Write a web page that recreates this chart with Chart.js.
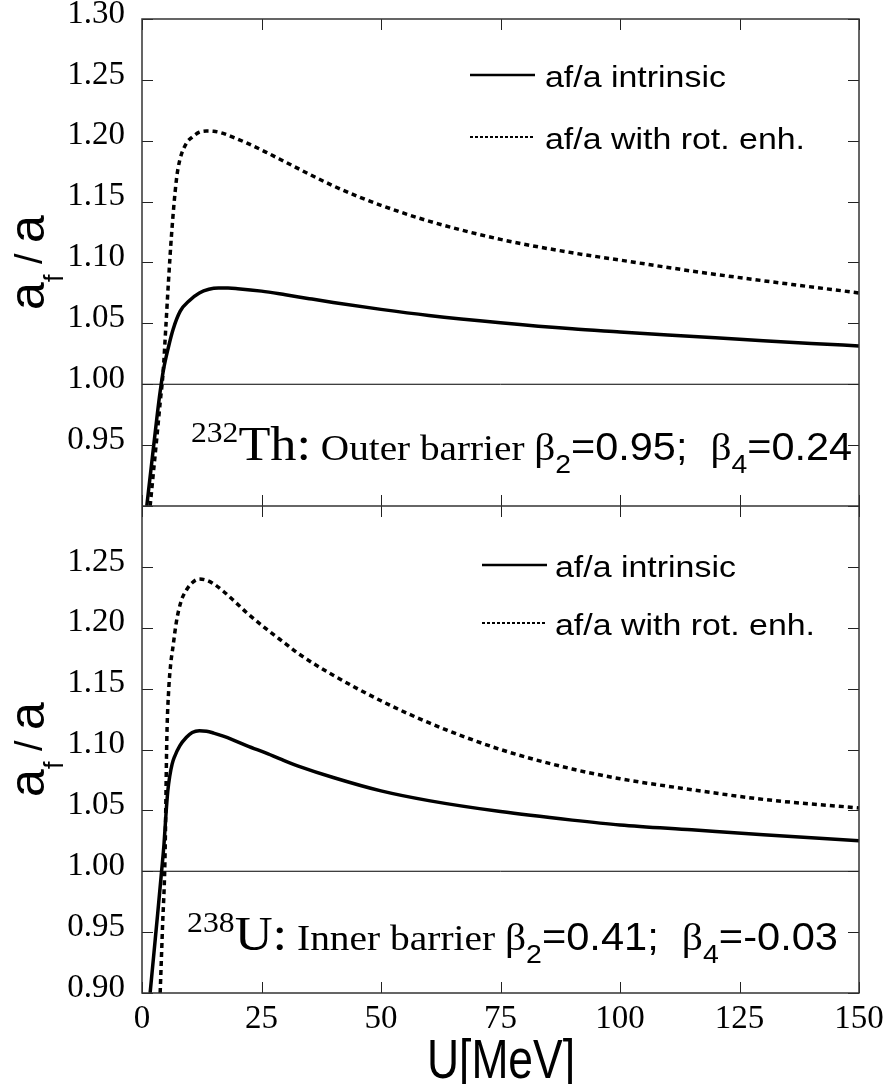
<!DOCTYPE html>
<html>
<head>
<meta charset="utf-8">
<script src="https://cdn.jsdelivr.net/npm/chart.js@4.4.0/dist/chart.umd.min.js"></script>
<style>
  html, body { margin: 0; padding: 0; background: #fff; }
  canvas { display: block; }
</style>
</head>
<body>
<canvas id="chart" width="888" height="1084"></canvas>
<script>
// Axis ticks and series names
const xTickValues = [0, 25, 50, 75, 100, 125, 150];
const yTickValues = [0.90, 0.95, 1.00, 1.05, 1.10, 1.15, 1.20, 1.25, 1.30];
const seriesLabels = ["af/a intrinsic", "af/a with rot. enh."];

// 232Th, outer barrier (top panel)
const thIntrinsicU = [1.0, 1.7, 2.4, 3.1, 3.8, 4.5, 5.5, 6.5, 8.0, 10, 12, 14, 16, 18, 20, 25, 30, 35, 40, 50, 60, 75, 90, 100, 110, 125, 140, 150];
const thIntrinsicRatio = [0.900, 0.924, 0.948, 0.972, 0.994, 1.012, 1.030, 1.045, 1.060, 1.069, 1.075, 1.078, 1.079, 1.079, 1.0785, 1.0765, 1.0735, 1.0703, 1.0672, 1.0615, 1.0565, 1.0505, 1.0455, 1.043, 1.0405, 1.037, 1.0335, 1.0315];
const thRotU = [1.7, 2.4, 3.1, 3.8, 4.4, 5.0, 5.5, 6.2, 7.2, 7.9, 9.3, 10.5, 12, 13.5, 15, 17, 19, 22, 26, 30, 35, 40, 45, 50, 60, 75, 90, 100, 115, 130, 150];
const thRotRatio = [0.900, 0.928, 0.956, 0.985, 1.009, 1.048, 1.082, 1.124, 1.168, 1.184, 1.198, 1.203, 1.207, 1.208, 1.2078, 1.206, 1.203, 1.198, 1.1905, 1.1825, 1.1725, 1.163, 1.1545, 1.147, 1.134, 1.119, 1.108, 1.102, 1.093, 1.085, 1.075];

// 238U, inner barrier (bottom panel)
const uIntrinsicU = [1.7, 2.5, 3.3, 4.1, 4.6, 5.0, 5.4, 5.8, 6.3, 6.8, 7.9, 9.3, 10.5, 12, 13.5, 15, 17, 19, 22, 26, 30, 33, 40, 50, 60, 75, 90, 100, 115, 130, 150];
const uIntrinsicRatio = [0.900, 0.933, 0.966, 1.000, 1.022, 1.046, 1.066, 1.078, 1.088, 1.094, 1.103, 1.110, 1.114, 1.1155, 1.115, 1.1135, 1.111, 1.108, 1.103, 1.097, 1.0905, 1.086, 1.077, 1.066, 1.058, 1.049, 1.042, 1.038, 1.034, 1.030, 1.025];
const uRotU = [3.8, 4.3, 4.8, 5.2, 5.6, 6.0, 6.5, 7.2, 8.2, 9.3, 10.5, 12, 13.5, 15, 17, 19, 22, 26, 30, 33, 40, 50, 60, 75, 90, 100, 115, 130, 150];
const uRotRatio = [0.900, 0.955, 1.009, 1.110, 1.150, 1.170, 1.185, 1.205, 1.222, 1.231, 1.237, 1.240, 1.239, 1.236, 1.230, 1.223, 1.212, 1.199, 1.187, 1.178, 1.161, 1.140, 1.122, 1.100, 1.084, 1.076, 1.067, 1.059, 1.052];

// Reference line a_f/a = 1
const refLineU = [0, 150];
const refLineRatio = [1.0, 1.0];

const SERIF = "'Liberation Serif', 'Times New Roman', serif";
const SANS = "'Liberation Sans', Arial, sans-serif";

function toPoints(xs, ys) {
    return xs.map((x, i) => ({ x: x, y: ys[i] }));
}

// One curve of the figure
function curve(label, xs, ys, axisId, dashed) {
    return {
        label: label,
        data: toPoints(xs, ys),
        yAxisID: axisId,
        borderColor: "#000",
        borderWidth: 3.5,
        borderDash: dashed ? [5, 4] : [],
        borderCapStyle: "butt",
        pointRadius: 0,
        fill: false,
        cubicInterpolationMode: "monotone"
    };
}

function refLine(axisId) {
    return {
        label: "ref",
        data: toPoints(refLineU, refLineRatio),
        yAxisID: axisId,
        borderColor: "#000",
        borderWidth: 1,
        pointRadius: 0,
        fill: false
    };
}

// Draw a run of text pieces, squeezed to fit between x0 and x1
function drawRun(ctx, pieces, x0, x1, baseline) {
    ctx.save();
    let total = 0;
    pieces.forEach(p => {
        ctx.font = p.font;
        p.w = ctx.measureText(p.text).width;
        total += p.w;
    });
    ctx.translate(x0, baseline);
    ctx.scale(x1 ? (x1 - x0) / total : 1, 1);
    ctx.fillStyle = "#000";
    ctx.textBaseline = "alphabetic";
    ctx.textAlign = "left";
    let cx = 0;
    pieces.forEach(p => {
        ctx.font = p.font;
        ctx.fillText(p.text, cx, p.dy || 0);
        cx += p.w;
    });
    ctx.restore();
}

function drawLegend(ctx, lineX0, lineX1, textX, rowY) {
    ctx.save();
    ctx.strokeStyle = "#000";
    rowY.forEach((y, i) => {
        ctx.lineWidth = i === 0 ? 2.5 : 2;
        ctx.setLineDash(i === 0 ? [] : [3, 2]);
        ctx.beginPath();
        ctx.moveTo(lineX0, y);
        ctx.lineTo(lineX1, y);
        ctx.stroke();
        ctx.setLineDash([]);
        ctx.font = "30px " + SANS;
        ctx.fillStyle = "#000";
        ctx.textBaseline = "alphabetic";
        ctx.save();
        ctx.translate(textX, y + 12);
        ctx.scale(1.13, 1);
        ctx.fillText(seriesLabels[i], 0, 0);
        ctx.restore();
    });
    ctx.restore();
}

// Rotated "a_f / a"
function drawRatioTitle(ctx, cy) {
    const pieces = [
        { text: "a", font: "50px " + SANS, dy: 0 },
        { text: "f", font: "27px " + SANS, dy: 19 },
        { text: " / ", font: "38px " + SANS, dy: -2 },
        { text: "a", font: "50px " + SANS, dy: 0 }
    ];
    ctx.save();
    let total = 0;
    pieces.forEach(p => { ctx.font = p.font; p.w = ctx.measureText(p.text).width; total += p.w; });
    ctx.translate(44, cy);
    ctx.rotate(-Math.PI / 2);
    ctx.fillStyle = "#000";
    let cx = -total / 2;
    pieces.forEach(p => {
        ctx.font = p.font;
        ctx.fillText(p.text, cx, p.dy);
        cx += p.w;
    });
    ctx.restore();
}

const annotationTh = [
    { text: "232", font: "29px " + SERIF, dy: -18 },
    { text: "Th:", font: "48px " + SERIF },
    { text: " Outer barrier ", font: "36px " + SERIF },
    { text: "β", font: "38px " + SERIF },
    { text: "2", font: "26px " + SANS, dy: 13 },
    { text: "=0.95;  ", font: "38px " + SANS },
    { text: "β", font: "38px " + SERIF },
    { text: "4", font: "26px " + SANS, dy: 13 },
    { text: "=0.24", font: "38px " + SANS }
];
const annotationU = [
    { text: "238", font: "29px " + SERIF, dy: -18 },
    { text: "U:", font: "48px " + SERIF },
    { text: " Inner barrier ", font: "36px " + SERIF },
    { text: "β", font: "38px " + SERIF },
    { text: "2", font: "26px " + SANS, dy: 13 },
    { text: "=0.41;  ", font: "38px " + SANS },
    { text: "β", font: "38px " + SERIF },
    { text: "4", font: "26px " + SANS, dy: 13 },
    { text: "=-0.03", font: "38px " + SANS }
];

// Frame, inward ticks, legends and labels
const panelDecor = {
    id: "panelDecor",
    afterDatasetsDraw(chart) {
        const ctx = chart.ctx;
        const xs = chart.scales.x;
        const yTh = chart.scales.yTh;
        const yU = chart.scales.yU;
        const left = chart.chartArea.left;
        const right = chart.chartArea.right;
        const top = yTh.top;
        const mid = yTh.bottom;
        const bottom = yU.bottom;
        const tl = 11;

        ctx.save();
        ctx.strokeStyle = "#222";
        ctx.lineWidth = 1;
        ctx.beginPath();
        xs.ticks.forEach(t => {
            const px = Math.round(xs.getPixelForValue(t.value)) + 0.5;
            ctx.moveTo(px, top); ctx.lineTo(px, top + tl);
            ctx.moveTo(px, mid - tl); ctx.lineTo(px, mid + tl);
            ctx.moveTo(px, bottom); ctx.lineTo(px, bottom - tl);
        });
        [yTh, yU].forEach(s => {
            s.ticks.forEach(t => {
                const py = Math.round(s.getPixelForValue(t.value)) + 0.5;
                ctx.moveTo(left, py); ctx.lineTo(left + tl, py);
                ctx.moveTo(right, py); ctx.lineTo(right - tl, py);
            });
        });
        ctx.stroke();

        ctx.lineWidth = 1.5;
        ctx.strokeStyle = "#333";
        ctx.strokeRect(left, top, right - left, bottom - top);
        ctx.beginPath();
        ctx.moveTo(left, mid); ctx.lineTo(right, mid);
        ctx.stroke();
        ctx.restore();

        drawLegend(ctx, 470, 535, 545, [75, 137]);
        drawLegend(ctx, 482, 547, 555, [565, 623]);

        drawRun(ctx, annotationTh, 191, 852, 460);
        drawRun(ctx, annotationU, 187, 838, 950);

        drawRatioTitle(ctx, (top + mid) / 2);
        drawRatioTitle(ctx, (mid + bottom) / 2);

        drawRun(ctx, [{ text: "U[MeV]", font: "56px " + SANS }], 427, 575, 1078);
    }
};

function yScale(weight, hideValue) {
    return {
        type: "linear",
        position: "left",
        stack: "panels",
        stackWeight: 1,
        weight: weight,
        min: 0.9,
        max: 1.3,
        afterBuildTicks: s => { s.ticks = yTickValues.map(v => ({ value: v })); },
        afterFit: s => {
            s.width = 142;
            s.paddingTop = 0;
            s.paddingBottom = 0;
        },
        grid: { display: false, drawTicks: false },
        border: { display: false },
        ticks: {
            font: { family: SERIF, size: 33, lineHeight: 1 },
            color: "#000",
            padding: 17,
            labelOffset: -5,
            autoSkip: false,
            callback: v => Math.abs(v - hideValue) < 0.001 ? "" : v.toFixed(2)
        }
    };
}

const chartInstance = new Chart(document.getElementById("chart").getContext("2d"), {
    type: "line",
    data: {
        datasets: [
            refLine("yTh"),
            curve(seriesLabels[0], thIntrinsicU, thIntrinsicRatio, "yTh", false),
            curve(seriesLabels[1], thRotU, thRotRatio, "yTh", true),
            refLine("yU"),
            curve(seriesLabels[0], uIntrinsicU, uIntrinsicRatio, "yU", false),
            curve(seriesLabels[1], uRotU, uRotRatio, "yU", true)
        ]
    },
    options: {
        responsive: false,
        animation: false,
        layout: { padding: { top: 19, right: 29, bottom: 0, left: 0 } },
        plugins: { legend: { display: false }, tooltip: { enabled: false } },
        scales: {
            x: {
                type: "linear",
                min: 0,
                max: 150,
                afterBuildTicks: s => { s.ticks = xTickValues.map(v => ({ value: v })); },
                afterFit: s => {
                    s.height = 91;
                    s.paddingLeft = 0;
                    s.paddingRight = 0;
                },
                grid: { display: false, drawTicks: false },
                border: { display: false },
                ticks: {
                    font: { family: SERIF, size: 33, lineHeight: 1 },
                    color: "#000",
                    padding: 10,
                    maxRotation: 0,
                    autoSkip: false,
                    callback: v => String(v)
                }
            },
            yTh: yScale(2, 0.9),
            yU: yScale(1, 1.3)
        }
    },
    plugins: [panelDecor]
});
</script>
</body>
</html>
